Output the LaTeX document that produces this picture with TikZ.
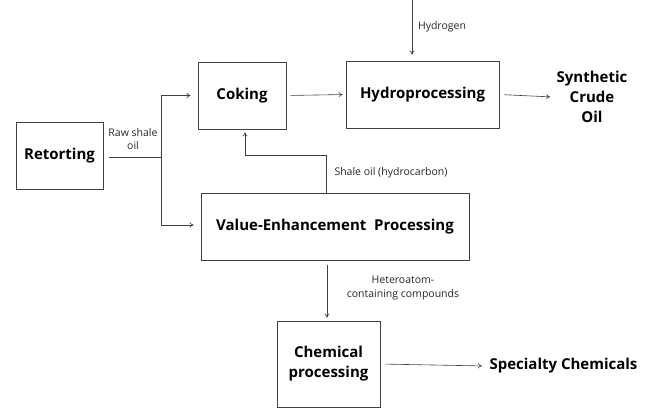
\documentclass[tikz,border=0pt]{standalone}
\usepackage{fontspec}
\setmainfont{Open Sans}
\usetikzlibrary{arrows.meta}
\colorlet{line edge}{black!75}
\tikzset{
  procbox/.style={draw=line edge, line width=0.7pt, align=center, font=\fontsize{15}{20}\selectfont\bfseries, inner sep=0pt},
  prod/.style={align=center, font=\fontsize{15}{20}\selectfont\bfseries},
  lbl/.style={align=center, font=\fontsize{10.5}{13.5}\selectfont, text=black!85},
  flow/.style={draw=line edge, line width=0.6pt, -{To[length=4pt,width=5pt]}}
  }
\tikzstyle{plain} = [draw=line edge, line width=0.6pt]

\begin{document}
\begin{tikzpicture}[x=1pt, y=-1pt]
  \useasboundingbox (0,0) rectangle (650,408);

  % process boxes
  \foreach \pos/\name/\w/\h/\txt in {{(59.5,155.5)/ret/87/67/Retorting},
      {(242,95.5)/cok/88/67/Coking},
      {(422.5,94.5)/hyd/153/67/Hydroprocessing},
      {(335,226.5)/val/268/67/Value-Enhancement\ \ Processing},
      {(328.5,364)/chem/103/86/Chemical\\processing}} {
    \node[procbox, minimum width=\w pt, minimum height=\h pt] (\name) at \pos {\txt};
  }

  % products
  \node[prod] (syn) at (592,97) {Synthetic\\Crude\\Oil};
  \node[prod, anchor=west] (spec) at (486,366) {Specialty Chemicals};

  % helper points
  \coordinate (jct) at (161,157);
  \coordinate (h2) at (412,0);
  \coordinate (bend) at (326,155);

  \draw[plain, shorten <=6pt] (ret.east |- jct) -- (jct);
  \draw[flow, shorten >=7pt] (jct) |- (cok.west);
  \draw[flow, shorten >=7pt] (jct) |- (val.west |- 0,225);
  \draw[flow, shorten <=4pt, shorten >=3pt] (cok.east) -- (hyd.west);
  \draw[flow, shorten >=6pt] (h2) -- (h2 |- hyd.north);
  \draw[flow, shorten <=5pt, shorten >=3pt] (hyd.east) -- (syn.west);
  \draw[flow, shorten >=3pt] (bend |- val.north) -- (bend) -| (cok.south -| 245,0);
  \draw[flow, shorten <=5pt, shorten >=3pt] (val.south -| 327,0) -- (chem.north -| 327,0);
  \draw[flow, shorten <=5pt, shorten >=4pt] (chem.east) -- (spec.west);

  % stream labels
  \node[lbl] (raw) at (133,139) {Raw shale\\oil};
  \node[lbl] (hlbl) at (442,27) {Hydrogen};
  \node[lbl, anchor=west] (slbl) at (331,173) {Shale oil (hydrocarbon)};
  \node[lbl] (het) at (403,288) {Heteroatom-\\containing compounds};
\end{tikzpicture}
\end{document}
